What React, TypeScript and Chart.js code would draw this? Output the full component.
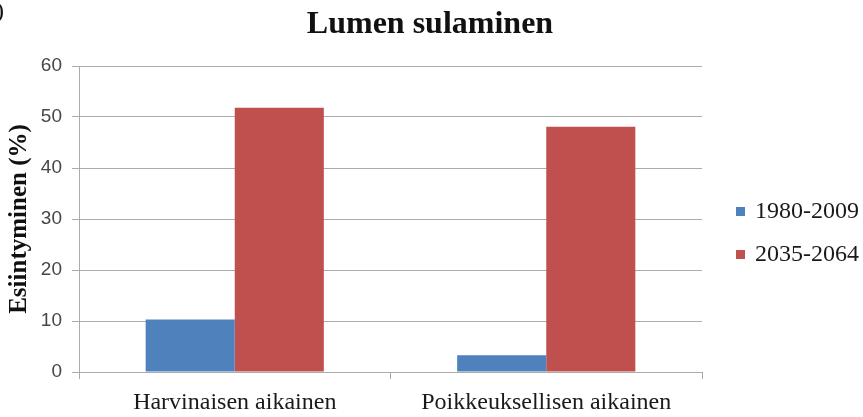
import React, { useEffect, useRef } from "react";
import { Chart, registerables } from "chart.js";

Chart.register(...registerables);

const chartTitle = "Lumen sulaminen";
const yAxisTitle = "Esiintyminen (%)";
const categories = ["Harvinaisen aikainen", "Poikkeuksellisen aikainen"];
const seriesLabels = ["1980-2009", "2035-2064"];
const values1980 = [10.3, 3.3];
const values2035 = [51.8, 48.1];
const seriesColors = ["#4F81BD", "#C0504D"];
const yMin = 0;
const yMax = 60;
const yStep = 10;
const cornerText = ")";

const SERIF = "'Liberation Serif', 'Times New Roman', serif";
const SANS = "'Liberation Sans', Arial, sans-serif";
const GRID = "#ababab";

const sideLegend = {
  id: "sideLegend",
  afterDraw(chart: any) {
    const { ctx, chartArea } = chart;
    const x = chartArea.right + 34;
    const mid = (chartArea.top + chartArea.bottom) / 2 + 14;
    const gap = 43;
    const n = chart.data.datasets.length;
    ctx.save();
    ctx.font = `24px ${SERIF}`;
    ctx.textBaseline = "middle";
    ctx.textAlign = "left";
    chart.data.datasets.forEach((ds: any, i: number) => {
      const y = mid + (i - (n - 1) / 2) * gap;
      ctx.fillStyle = ds.backgroundColor;
      ctx.fillRect(x, y - 4.5, 9, 9);
      ctx.fillStyle = "#1a1a1a";
      ctx.fillText(ds.label, x + 19, y);
    });
    ctx.restore();
  },
};

const topTexts = {
  id: "topTexts",
  afterDraw(chart: any) {
    const { ctx, width } = chart;
    ctx.save();
    ctx.fillStyle = "#111";
    ctx.textBaseline = "alphabetic";
    ctx.textAlign = "center";
    ctx.font = `bold 32px ${SERIF}`;
    ctx.fillText(chartTitle, width / 2 - 1.5, 33);
    ctx.textAlign = "left";
    ctx.font = `24px ${SERIF}`;
    ctx.fillText(cornerText, -4, 18);
    ctx.restore();
  },
};

export default function App() {
  const canvasRef = useRef<HTMLCanvasElement | null>(null);

  useEffect(() => {
    document.body.style.margin = "0";
    const canvas = canvasRef.current;
    if (!canvas) return;
    const chart = new Chart(canvas, {
      type: "bar",
      data: {
        labels: categories,
        datasets: [
          {
            label: seriesLabels[0],
            data: values1980,
            backgroundColor: seriesColors[0],
            borderWidth: 0,
          },
          {
            label: seriesLabels[1],
            data: values2035,
            backgroundColor: seriesColors[1],
            borderWidth: 0,
          },
        ],
      },
      options: {
        animation: false,
        responsive: false,
        maintainAspectRatio: false,
        devicePixelRatio: 1,
        layout: { padding: { left: 0, right: 161, top: 66, bottom: 0 } },
        datasets: {
          bar: { categoryPercentage: 0.572, barPercentage: 1 },
        },
        plugins: {
          legend: { display: false },
          tooltip: { enabled: false },
          title: { display: false },
        },
        scales: {
          x: {
            offset: true,
            grid: {
              display: true,
              drawOnChartArea: false,
              drawTicks: true,
              tickLength: 7,
              offset: true,
              color: GRID,
              lineWidth: 1,
            },
            border: { display: true, color: GRID, width: 1 },
            ticks: {
              color: "#1a1a1a",
              font: { family: SERIF, size: 24 },
              padding: 9,
              maxRotation: 0,
              autoSkip: false,
            },
            afterFit(scale: any) {
              scale.height = 45;
            },
          },
          y: {
            min: yMin,
            max: yMax,
            grid: {
              color: GRID,
              lineWidth: 1,
              drawTicks: true,
              tickLength: 7,
            },
            border: { display: true, color: GRID, width: 1 },
            ticks: {
              stepSize: yStep,
              color: "#474747",
              font: { family: SANS, size: 19 },
              padding: 10,
            },
            title: {
              display: true,
              text: yAxisTitle,
              color: "#111",
              font: { family: SERIF, size: 25, weight: "bold", lineHeight: 1.2 },
              padding: { top: 5, bottom: 0 },
            },
            afterFit(scale: any) {
              scale.width = 79;
            },
          },
        },
      },
      plugins: [sideLegend, topTexts],
    });
    return () => chart.destroy();
  }, []);

  return (
    <div style={{ position: "fixed", left: 0, top: 0, width: 863, height: 417, background: "#fff" }}>
      <canvas ref={canvasRef} width={863} height={417} style={{ width: 863, height: 417, display: "block" }} />
    </div>
  );
}
